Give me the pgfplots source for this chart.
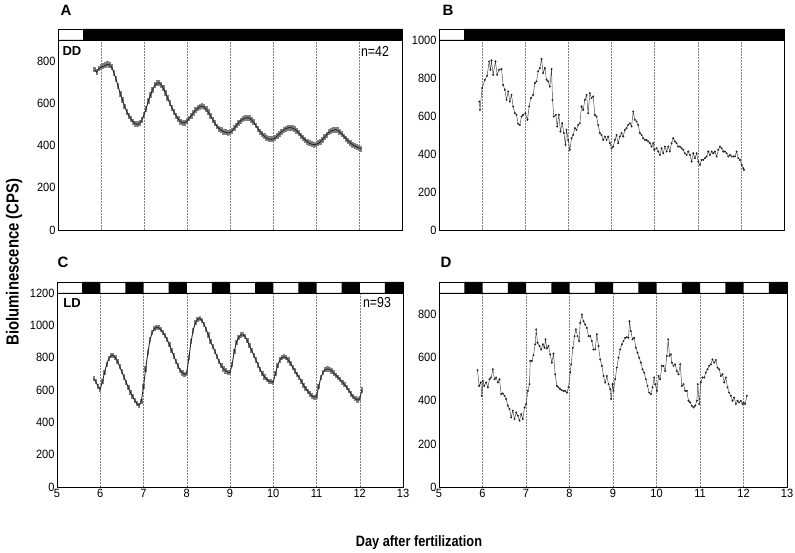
\documentclass[border=0pt]{standalone}
\usepackage{pgfplots}
\pgfplotsset{compat=1.18}
\usepackage{pgfplotstable}
\usepackage{fontspec}
\setmainfont{Liberation Sans}
\newfontfamily\narrowfont[FakeStretch=0.85]{Liberation Sans}
\newfontfamily\tickfamily[FakeStretch=0.92]{Liberation Sans}
\newcommand\tickfnt{\tickfamily\fontsize{12bp}{13bp}\selectfont}

\pgfplotstableread{
x y
5.85 760
5.90 748
5.95 765
6.00 770
6.05 775
6.10 780
6.15 785
6.20 782
6.25 770
6.30 745
6.35 715
6.40 680
6.45 645
6.50 615
6.55 585
6.60 560
6.65 540
6.70 525
6.75 512
6.80 503
6.85 500
6.90 505
6.95 520
7.00 545
7.05 575
7.10 610
7.15 640
7.20 665
7.25 685
7.30 695
7.35 697
7.40 688
7.45 672
7.50 650
7.55 625
7.60 600
7.65 578
7.70 558
7.75 540
7.80 525
7.85 513
7.90 507
7.95 508
8.00 515
8.05 528
8.10 542
8.15 555
8.20 567
8.25 577
8.30 584
8.35 587
8.40 583
8.45 572
8.50 557
8.55 540
8.60 522
8.65 505
8.70 490
8.75 480
8.80 472
8.85 466
8.90 462
8.95 460
9.00 462
9.05 470
9.10 482
9.15 495
9.20 508
9.25 518
9.30 526
9.35 530
9.40 532
9.45 530
9.50 522
9.55 510
9.60 495
9.65 480
9.70 466
9.75 454
9.80 444
9.85 436
9.90 431
9.95 429
10.00 430
10.05 436
10.10 445
10.15 456
10.20 466
10.25 474
10.30 480
10.35 484
10.40 485
10.45 483
10.50 478
10.55 470
10.60 459
10.65 447
10.70 436
10.75 426
10.80 418
10.85 411
10.90 406
10.95 404
11.00 405
11.05 410
11.10 418
11.15 428
11.20 440
11.25 452
11.30 462
11.35 469
11.40 473
11.45 475
11.50 472
11.55 465
11.60 455
11.65 443
11.70 432
11.75 422
11.80 412
11.85 404
11.90 398
11.95 393
12.00 389
12.05 384
}\dataA

\pgfplotstableread{
x y
5.85 670
5.90 650
5.95 620
6.00 605
6.05 650
6.10 710
6.15 760
6.20 795
6.25 812
6.30 815
6.35 800
6.40 775
6.45 745
6.50 712
6.55 680
6.60 648
6.65 615
6.70 585
6.75 558
6.80 535
6.85 515
6.90 505
6.95 530
7.00 620
7.05 730
7.10 830
7.15 910
7.20 955
7.25 978
7.30 988
7.35 985
7.40 972
7.45 955
7.50 935
7.55 910
7.60 880
7.65 845
7.70 810
7.75 778
7.80 748
7.85 722
7.90 705
7.95 695
8.00 705
8.05 800
8.10 900
8.15 970
8.20 1015
8.25 1038
8.30 1042
8.35 1030
8.40 1005
8.45 975
8.50 940
8.55 900
8.60 870
8.65 840
8.70 805
8.75 775
8.80 750
8.85 730
8.90 718
8.95 710
9.00 708
9.05 760
9.10 840
9.15 895
9.20 925
9.25 940
9.30 942
9.35 930
9.40 905
9.45 875
9.50 845
9.55 815
9.60 785
9.65 755
9.70 725
9.75 700
9.80 680
9.85 665
9.90 655
9.95 650
10.00 648
10.05 700
10.10 750
10.15 785
10.20 800
10.25 805
10.30 800
10.35 785
10.40 765
10.45 740
10.50 718
10.55 698
10.60 678
10.65 655
10.70 630
10.75 610
10.80 592
10.85 575
10.90 563
10.95 555
11.00 560
11.05 620
11.10 675
11.15 708
11.20 725
11.25 730
11.30 728
11.35 718
11.40 705
11.45 692
11.50 678
11.55 665
11.60 648
11.65 632
11.70 615
11.75 595
11.80 575
11.85 558
11.90 545
11.95 538
12.00 545
12.05 600
}\dataC

\pgfplotsset{
  panel/.style={
    scale only axis, xmin=5, xmax=13, ymin=0,
    axis line style={line width=0.8pt},
    tick style={draw=none},
    xtick={5,...,13},
    xmajorgrids,
    grid style={dash pattern=on 1.6bp off 1.4bp, line width=0.4pt, black!50},
    ticklabel style={font=\tickfnt},
    /pgf/number format/assume math mode=true,
    /pgf/number format/set thousands separator={},
    xticklabel style={yshift=1.5bp},
    yticklabel style={xshift=1bp},
  },
  lightbar/.style={
    scale only axis, height=11bp, xmin=5, xmax=13, ymin=0, ymax=1,
    ticks=none, axis line style={line width=0.8pt},
  },
  meanband/.style={draw=none, forget plot,
    error bars/.cd, y dir=both, y fixed=#1,
    error mark=none, error bar style={draw=black!50, line width=2.4bp}},
  meanline/.style={black!85, line width=0.9pt},
  single/.style={black!75, line width=0.45pt, mark=*, mark size=0.75pt, mark options={black!85, fill=black!85}},
}

\begin{document}
\begin{tikzpicture}[x=1bp, y=1bp]
\path[use as bounding box] (0,0) rectangle (795,553);

% ---------- A ----------
\begin{axis}[panel, at={(58bp,323bp)}, anchor=south west, width=344bp, height=190bp,
  ymax=900, ytick={0,200,...,800}, xticklabels={}]
\addplot[meanband=14] table {\dataA};
\addplot[meanline] table {\dataA};
\end{axis}
\begin{axis}[lightbar, at={(58bp,513bp)}, anchor=south west, width=344bp]
\addplot[const plot mark left, fill=black, draw=none] coordinates {(5,0) (5.583,1) (13,1)} \closedcycle;
\end{axis}

% ---------- B ----------
\begin{axis}[panel, at={(439bp,323bp)}, anchor=south west, width=345bp, height=190bp,
  ymax=1000, ytick={0,200,...,1000}, xticklabels={}]
\addplot[single] coordinates {
(5.935,676) (5.950,632) (6.000,747) (6.062,790) (6.116,812) (6.162,887) (6.193,843) (6.217,892) (6.255,817) (6.309,887) (6.348,817) (6.394,843) (6.449,847) (6.487,764) (6.526,738) (6.565,685) (6.603,729) (6.642,676) (6.681,711) (6.719,650) (6.758,615) (6.797,606) (6.835,559) (6.874,553) (6.913,597) (6.951,606) (7.005,615) (7.052,580) (7.090,650) (7.129,694) (7.183,711) (7.222,773) (7.261,782) (7.299,835) (7.338,852) (7.377,900) (7.415,826) (7.454,852) (7.493,791) (7.531,782) (7.570,755) (7.609,847) (7.632,685) (7.663,597) (7.709,606) (7.740,545) (7.779,606) (7.817,518) (7.856,562) (7.895,510) (7.933,448) (7.957,527) (7.995,474) (8.034,422) (8.073,483) (8.111,500) (8.150,536) (8.189,527) (8.227,553) (8.266,562) (8.305,650) (8.343,632) (8.382,685) (8.421,711) (8.459,615) (8.498,720) (8.537,694) (8.575,703) (8.614,606) (8.653,597) (8.691,553) (8.730,510) (8.769,500) (8.807,474) (8.846,492) (8.885,474) (8.923,492) (8.962,457) (9.001,430) (9.039,439) (9.078,474) (9.117,500) (9.155,457) (9.194,492) (9.233,510) (9.271,492) (9.310,527) (9.349,536) (9.387,553) (9.426,562) (9.465,545) (9.503,623) (9.542,580) (9.581,571) (9.619,553) (9.658,510) (9.697,500) (9.735,483) (9.774,474) (9.813,474) (9.851,466) (9.890,457) (9.929,439) (9.967,457) (9.991,422) (10.045,430) (10.084,413) (10.122,395) (10.161,430) (10.200,404) (10.238,439) (10.277,413) (10.316,439) (10.354,413) (10.393,457) (10.432,483) (10.470,466) (10.509,457) (10.548,439) (10.586,439) (10.625,430) (10.664,422) (10.702,404) (10.741,395) (10.780,413) (10.818,395) (10.857,360) (10.896,404) (10.934,378) (10.973,404) (11.012,360) (11.050,343) (11.089,369) (11.128,369) (11.166,378) (11.205,387) (11.244,413) (11.282,395) (11.321,413) (11.360,404) (11.398,413) (11.437,387) (11.476,422) (11.514,439) (11.553,430) (11.592,413) (11.630,413) (11.669,404) (11.708,387) (11.747,395) (11.785,387) (11.824,387) (11.862,387) (11.901,413) (11.940,378) (11.978,369) (12.017,343) (12.056,325) (12.071,316)
};
\end{axis}
\begin{axis}[lightbar, at={(439bp,513bp)}, anchor=south west, width=345bp]
\addplot[const plot mark left, fill=black, draw=none] coordinates {(5,0) (5.583,1) (13,1)} \closedcycle;
\end{axis}

% ---------- C ----------
\begin{axis}[panel, at={(57bp,66bp)}, anchor=south west, width=346bp, height=194bp,
  ymax=1200, ytick={0,200,...,1200}]
\addplot[meanband=16] table {\dataC};
\addplot[meanline] table {\dataC};
\end{axis}
\begin{axis}[lightbar, at={(57bp,260bp)}, anchor=south west, width=346bp]
\addplot[const plot mark left, fill=black, draw=none] coordinates {(5,0) (5.583,1) (6,0) (6.583,1) (7,0) (7.583,1) (8,0) (8.583,1) (9,0) (9.583,1) (10,0) (10.583,1) (11,0) (11.583,1) (12,0) (12.583,1) (13,1)} \closedcycle;
\end{axis}

% ---------- D ----------
\begin{axis}[panel, at={(439bp,66bp)}, anchor=south west, width=348bp, height=194bp,
  ymax=900, ytick={0,200,...,800}]
\addplot[single] coordinates {
(5.885,542) (5.923,469) (5.962,485) (5.985,423) (6.008,492) (6.038,469) (6.084,485) (6.123,462) (6.161,500) (6.199,508) (6.238,546) (6.276,500) (6.314,508) (6.352,485) (6.391,500) (6.429,431) (6.467,434) (6.506,423) (6.544,408) (6.582,377) (6.621,362) (6.659,323) (6.697,354) (6.736,315) (6.774,346) (6.812,331) (6.851,308) (6.889,338) (6.927,315) (6.966,369) (7.004,385) (7.042,446) (7.080,477) (7.096,585) (7.134,585) (7.172,612) (7.211,662) (7.234,731) (7.264,669) (7.310,654) (7.349,638) (7.387,662) (7.425,646) (7.448,685) (7.479,643) (7.517,654) (7.556,615) (7.594,577) (7.632,618) (7.670,523) (7.709,469) (7.747,462) (7.785,454) (7.824,449) (7.862,446) (7.900,446) (7.939,438) (7.977,462) (8.015,531) (8.038,569) (8.077,646) (8.115,700) (8.146,731) (8.184,700) (8.222,677) (8.245,761) (8.284,800) (8.322,769) (8.360,754) (8.398,738) (8.437,700) (8.475,700) (8.513,677) (8.552,638) (8.590,638) (8.628,708) (8.667,654) (8.705,592) (8.743,562) (8.782,515) (8.820,485) (8.858,515) (8.897,477) (8.935,454) (8.958,408) (8.989,477) (9.011,446) (9.050,500) (9.088,554) (9.126,600) (9.165,638) (9.203,662) (9.241,677) (9.280,692) (9.318,695) (9.356,692) (9.379,769) (9.410,723) (9.448,685) (9.487,692) (9.525,646) (9.563,623) (9.602,600) (9.640,577) (9.678,546) (9.716,531) (9.755,500) (9.793,469) (9.831,438) (9.870,431) (9.908,462) (9.946,508) (9.969,477) (10.008,446) (10.046,515) (10.084,500) (10.123,562) (10.161,562) (10.199,538) (10.238,608) (10.268,685) (10.299,608) (10.330,615) (10.352,577) (10.391,562) (10.429,569) (10.467,538) (10.506,523) (10.544,569) (10.582,469) (10.621,477) (10.659,446) (10.697,446) (10.736,400) (10.774,392) (10.812,377) (10.851,369) (10.889,377) (10.927,400) (10.950,477) (10.981,385) (11.019,485) (11.057,508) (11.096,508) (11.134,531) (11.172,546) (11.211,562) (11.249,569) (11.287,592) (11.326,577) (11.364,589) (11.402,554) (11.441,546) (11.479,515) (11.517,523) (11.556,485) (11.594,508) (11.632,462) (11.670,438) (11.709,423) (11.747,400) (11.785,415) (11.824,385) (11.862,400) (11.900,392) (11.939,400) (11.977,385) (12.000,392) (12.038,385) (12.077,423)
};
\end{axis}
\begin{axis}[lightbar, at={(439bp,260bp)}, anchor=south west, width=348bp]
\addplot[const plot mark left, fill=black, draw=none] coordinates {(5,0) (5.583,1) (6,0) (6.583,1) (7,0) (7.583,1) (8,0) (8.583,1) (9,0) (9.583,1) (10,0) (10.583,1) (11,0) (11.583,1) (12,0) (12.583,1) (13,1)} \closedcycle;
\end{axis}

% ---------- texts ----------
\node[font=\fontsize{15bp}{16bp}\selectfont\bfseries] at (66,543) {A};
\node[font=\fontsize{15bp}{16bp}\selectfont\bfseries] at (448,543) {B};
\node[font=\fontsize{15bp}{16bp}\selectfont\bfseries] at (63,291) {C};
\node[font=\fontsize{15bp}{16bp}\selectfont\bfseries] at (446,291) {D};
\node[font=\fontsize{13bp}{14bp}\selectfont\bfseries] at (72,502) {DD};
\node[font=\fontsize{13bp}{14bp}\selectfont\bfseries] at (72,250) {LD};
\node[font=\narrowfont\fontsize{14.5bp}{15bp}\selectfont] at (375,502) {n=42};
\node[font=\narrowfont\fontsize{14.5bp}{15bp}\selectfont] at (377,250) {n=93};
\node[font=\narrowfont\fontsize{17.5bp}{18bp}\selectfont\bfseries, rotate=90] at (14,291) {Bioluminescence (CPS)};
\node[font=\narrowfont\fontsize{15bp}{16bp}\selectfont\bfseries] at (419,10) {Day after fertilization};
\end{tikzpicture}
\end{document}
